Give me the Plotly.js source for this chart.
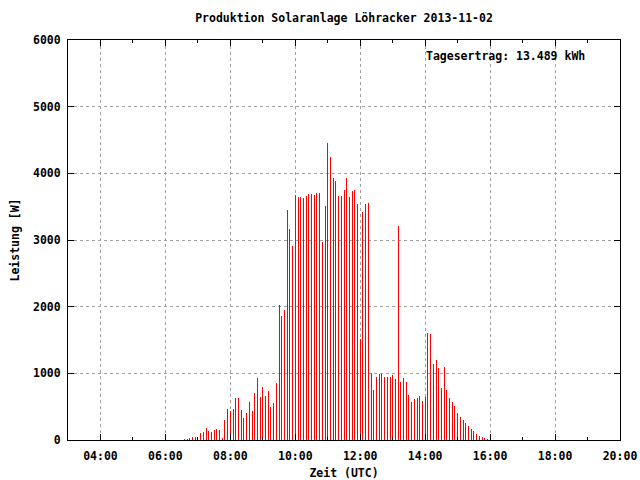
<!DOCTYPE html>
<html>
<head>
<meta charset="utf-8">
<script src="https://cdn.plot.ly/plotly-3.0.1.min.js"></script>
<style>html,body{margin:0;padding:0;background:#fff;}#chart{width:640px;height:480px;}</style>
</head>
<body>
<div id="chart"></div>
<script>
// 5-minute samples, 2013-11-02 (UTC)
const day = "2013-11-02";
const times = [
 "06:35","06:40","06:45","06:50","06:55","07:00","07:05","07:10","07:15","07:20","07:25","07:30",
 "07:35","07:40","07:45","07:50","07:55","08:00","08:05","08:10","08:15","08:20","08:25","08:30",
 "08:35","08:40","08:45","08:50","08:55","09:00","09:05","09:10","09:15","09:20","09:25","09:30",
 "09:35","09:40","09:45","09:50","09:55","10:00","10:05","10:10","10:15","10:20","10:25","10:30",
 "10:35","10:40","10:45","10:50","10:55","11:00","11:05","11:10","11:15","11:20","11:25","11:30",
 "11:35","11:40","11:45","11:50","11:55","12:00","12:05","12:10","12:15","12:20","12:25","12:30",
 "12:35","12:40","12:45","12:50","12:55","13:00","13:05","13:10","13:15","13:20","13:25","13:30",
 "13:35","13:40","13:45","13:50","13:55","14:00","14:05","14:10","14:15","14:20","14:25","14:30",
 "14:35","14:40","14:45","14:50","14:55","15:00","15:05","15:10","15:15","15:20","15:25","15:30",
 "15:35","15:40","15:45","15:50","15:55"
];
const watts = [
 15,15,30,45,45,30,105,120,180,135,120,150,
 165,150,30,300,465,435,465,630,630,450,330,405,
 570,435,705,930,645,795,660,735,495,555,855,2025,
 1860,1950,3455,3170,2915,3680,3645,3645,3630,3665,3690,3690,
 3680,3705,3705,2970,3510,4455,4245,3930,3885,3660,3660,3750,
 3930,3645,3735,3750,3540,1515,3420,3540,3555,1000,750,945,
 995,990,940,940,940,970,910,3210,865,925,870,675,
 570,610,630,660,585,645,1605,1590,1140,1200,1080,780,
 1095,750,630,570,510,405,345,300,255,210,165,135,
 90,60,45,30,15
];
const titleText = "Produktion Solaranlage Löhracker 2013-11-02";
const xTitle = "Zeit (UTC)";
const yTitle = "Leistung [W]";
const yieldText = "Tagesertrag: 13.489 kWh";

const xs = times.map(t => day + " " + t);
const F = {family: "DejaVu Sans Mono, monospace", size: 11.5, color: "#000", weight: "bold"};

const trace = {
  type: "bar",
  x: xs,
  y: watts,
  width: xs.map(() => 110000),
  marker: {color: "#ff0000", line: {width: 0}},
  hoverinfo: "none"
};

const layout = {
  width: 640, height: 480,
  margin: {l: 68, r: 20, t: 40, b: 40},
  paper_bgcolor: "#fff", plot_bgcolor: "#fff",
  showlegend: false,
  font: F,
  title: {text: titleText, font: F, x: 0.5, xref: "paper", xanchor: "center", y: 1 - 18/480, yref: "container", yanchor: "middle"},
  xaxis: {
    type: "date",
    range: [day + " 03:00", day + " 20:00"],
    tick0: day + " 04:00", dtick: 7200000, tickformat: "%H:%M",
    ticks: "inside", ticklen: 6, tickcolor: "#000", tickwidth: 1,
    showline: true, linecolor: "#000", linewidth: 1, mirror: "ticks",
    showgrid: true, gridcolor: "#a0a0a0", griddash: "dot", gridwidth: 1,
    zeroline: false,
    tickfont: F, ticklabelstandoff: 5,
    minor: {dtick: 3600000, tick0: day + " 03:00", ticks: "inside", ticklen: 3, tickcolor: "#000", showgrid: false},
    title: {text: xTitle, font: F, standoff: 7}
  },
  yaxis: {
    range: [0, 6000], dtick: 1000,
    ticks: "inside", ticklen: 6, tickcolor: "#000", tickwidth: 1,
    showline: true, linecolor: "#000", linewidth: 1, mirror: "ticks",
    showgrid: true, gridcolor: "#a0a0a0", griddash: "dot", gridwidth: 1,
    zeroline: false,
    tickfont: F, ticklabelstandoff: 4,
    title: {text: yTitle, font: F, standoff: 10}
  },
  annotations: [{
    text: yieldText, xref: "paper", yref: "paper",
    x: (587 - 68) / 552, y: (440 - 56) / 400, xanchor: "right", yanchor: "middle",
    showarrow: false, font: F
  }],
  bargap: 0
};

Plotly.newPlot("chart", [trace], layout, {staticPlot: true, displayModeBar: false});
</script>
</body>
</html>
